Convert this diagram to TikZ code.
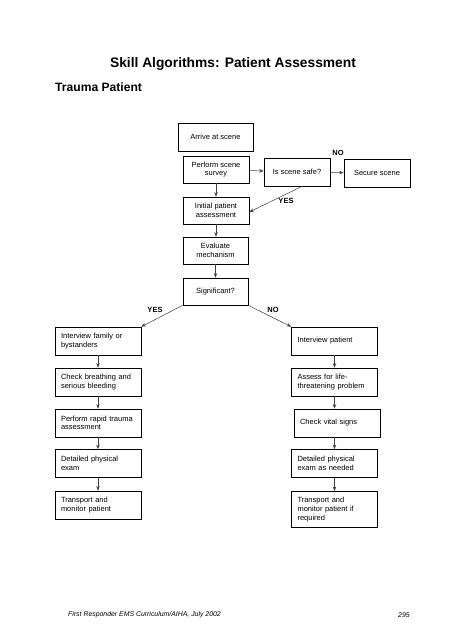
\documentclass[tikz,border=0pt]{standalone}
\usepackage{fontspec}
\setmainfont{Liberation Sans}
\usetikzlibrary{arrows.meta}

\begin{document}
\begin{tikzpicture}[x=1pt, y=-1pt,
		box/.style={draw, line width=.7pt, minimum height=28pt, inner sep=2pt,
			font=\fontsize{7.5}{8.6}\selectfont, align=center},
		lbox/.style={box, minimum width=86pt, text width=74pt, inner sep=6pt, align=left},
		lbl/.style={font=\fontsize{7.5}{9}\selectfont\bfseries},
		arr/.style={-{Stealth[length=4.5pt,width=3.5pt]}, line width=.5pt, black!75}]
			\useasboundingbox (0,0) rectangle (452,640);
			\node (title) at (233,64) {\fontsize{13.8}{17}\selectfont\bfseries Skill Algorithms: Patient Assessment};
			\node [right, inner sep=0pt] (trauma) at (55,87) {\fontsize{12.1}{15}\selectfont\bfseries Trauma Patient};

			% top of the chart
			\node [box, minimum width=75pt] (arrive) at (215.5,137) {Arrive at scene};
			\node [box, minimum width=66pt, minimum height=27pt] (survey) at (216,169.5) {Perform scene\\survey};
			\node [box, minimum width=66pt] (safe) at (297,172) {Is scene safe?};
			\node [box, minimum width=66pt] (secure) at (377,173) {Secure scene};
			\node [box, minimum width=66pt, minimum height=27pt] (initial) at (216,210.5) {Initial patient\\assessment};
			\node [box, minimum width=65pt, minimum height=27pt] (evaluate) at (215.5,250.5) {Evaluate\\mechanism};
			\node [box, minimum width=65pt, minimum height=27pt] (signif) at (215.5,291.5) {Significant?};

			\node [lbl] at (338,153) {NO};
			\node [lbl] at (286,201) {YES};
			\node [lbl] at (155,310) {YES};
			\node [lbl] at (273,310) {NO};

			% the two columns
			\node [lbox] (family) at (98,341) {Interview family or\\bystanders};
			\node [lbox] (breath) at (98,382) {Check breathing and\\serious bleeding};
			\node [lbox] (rapid) at (98,423) {Perform rapid trauma\\assessment};
			\node [lbox] (exam) at (98,463.5) {Detailed physical\\exam};
			\node [lbox] (transport) at (98,505) {Transport and\\monitor patient};

			\node [lbox] (interview) at (334.5,341) {Interview patient};
			\node [lbox] (assess) at (334.5,382) {Assess for life-\\threatening problem};
			\node [lbox] (vital) at (337,423) {Check vital signs};
			\node [lbox] (examneeded) at (334.5,463.5) {Detailed physical\\exam as needed};
			\node [lbox, minimum height=36pt] (monitor) at (334.5,509.5) {Transport and\\monitor patient if\\required};

			\draw [arr] (survey) -- (safe);
			\draw [arr] (safe) -- (secure);
			\draw [arr] ([xshift=5pt]safe.south) -- ([yshift=-1.5pt]initial.east);
			\draw [arr] (signif.south west) -- (family.north east);
			\draw [arr] (signif.south east) -- (interview.north west);
			\foreach \a/\b in {survey/initial, initial/evaluate, evaluate/signif,
					family/breath, breath/rapid, rapid/exam, exam/transport,
					interview/assess, assess/vital, examneeded/monitor} {
				\draw [arr] (\a.south) -- (\b.north -| \a.south);
			}
			\draw [arr] (vital.south -| examneeded.north) -- (examneeded.north);

			\node [right, inner sep=0pt] (source) at (68,615) {\fontsize{6.9}{8}\selectfont\itshape First Responder EMS Curriculum/AIHA, July 2002};
			\node [inner sep=0pt] (page) at (404,615) {\fontsize{6.9}{8}\selectfont\itshape 295};
		\end{tikzpicture}
\end{document}
